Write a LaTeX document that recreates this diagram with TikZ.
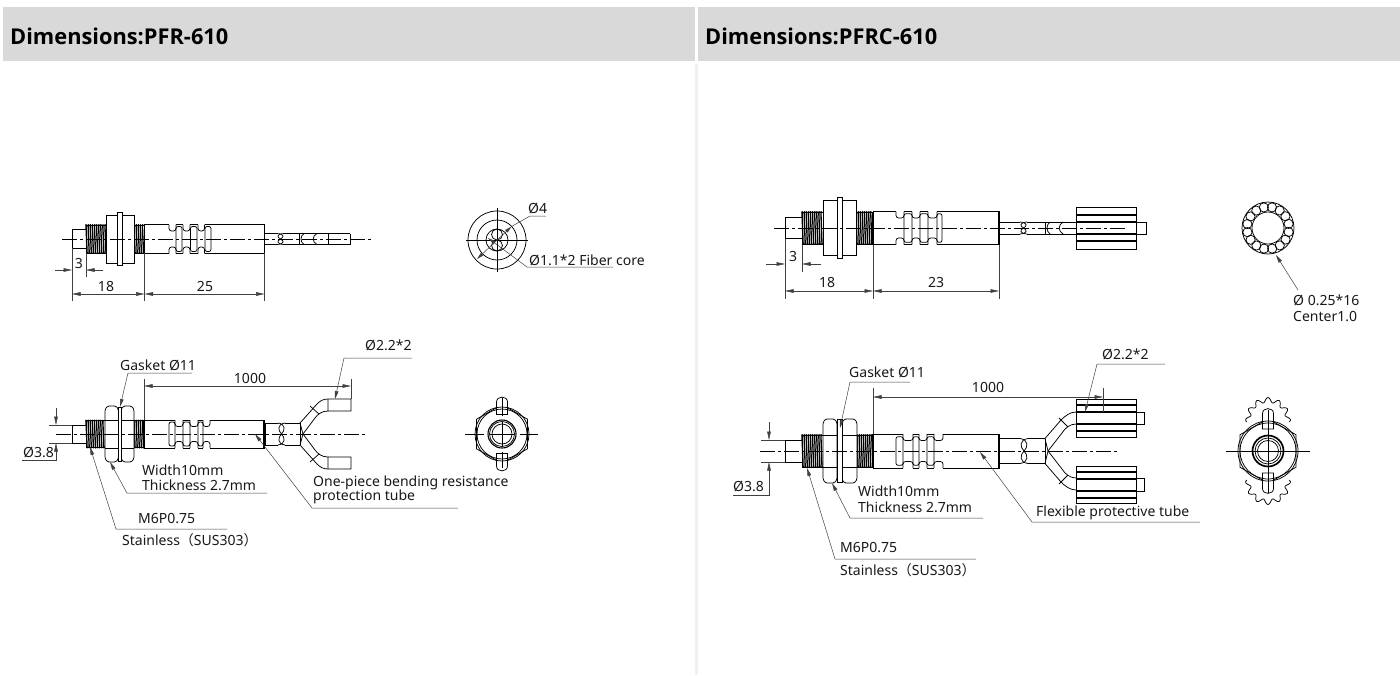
\documentclass[tikz,border=0pt]{standalone}
\usepackage{fontspec}
\setmainfont{Noto Sans}
\newfontfamily\headfont{Open Sans}
\newfontfamily\cjk{Noto Sans CJK SC}
\usetikzlibrary{arrows.meta}
\definecolor{headgray}{HTML}{D9D9D9}
\definecolor{bargray}{HTML}{F0F0F0}
\definecolor{dimgray}{HTML}{404040}
\tikzset{
  part/.style={draw=black,line width=.75},
  axisline/.style={draw=black,line width=.55,dash pattern=on 15pt off 3pt on 3pt off 3pt},
  dimline/.style={draw=dimgray,line width=.5},
  dimtip/.style={dimline,-{Stealth[length=8.5pt,width=3.6pt,inset=0pt]}},
  dimboth/.style={dimline,{Stealth[length=8.5pt,width=3.6pt,inset=0pt]}-{Stealth[length=8.5pt,width=3.6pt,inset=0pt]}},
  leadtip/.style={dimline,-{Stealth[length=8pt,width=3.6pt,inset=0pt]}},
  lab/.style={anchor=west,inner sep=0pt,font=\fontsize{14}{14}\selectfont,text=black!90},
  mid/.style={anchor=center,inner sep=0pt,font=\fontsize{14}{14}\selectfont,text=black!90},
  head/.style={anchor=west,inner sep=0pt,font=\headfont\fontsize{21.8}{22}\selectfont\bfseries,text=black}
}
% thread: x0 x1 cy h
\newcommand\threadpart[4]{%
  \draw[part] (#1,{#3-#4}) rectangle (#2,{#3+#4});
  \pgfmathsetmacro\nxt{#1+2.1}%
  \pgfmathsetmacro\lst{#2-1}%
  \foreach \tx in {#1,\nxt,...,\lst}{%
    \draw[line width=1.35] (\tx,{#3-#4}) -- ({\tx+1.1},{#3+#4});
    \fill ({\tx+.2},{#3-#4}) circle (1);
    \fill ({\tx+1.1},{#3+#4}) circle (1);
  }}
% nut outlines: x0 x1 cy h
\newcommand\nutflat[4]{\draw[part,fill=white] (#1,{#3-#4}) rectangle (#2,{#3+#4});}
\newcommand\nutfront[4]{%
  \draw[part,fill=white,rounded corners=1.5] (#1,{#3-#4+3.5}) -- ({#1+2.5},{#3-#4}) -- ({#2-2.5},{#3-#4}) -- (#2,{#3-#4+3.5}) -- (#2,{#3+#4-3.5}) -- ({#2-2.5},{#3+#4}) -- ({#1+2.5},{#3+#4}) -- (#1,{#3+#4-3.5}) -- cycle;
  \draw[part] (#1,{#3-.5*#4}) -- (#2,{#3-.5*#4}) (#1,{#3+.5*#4}) -- (#2,{#3+.5*#4});}
% slot and notch: x0 x1 cy h
\newcommand\slotcut[4]{\draw[part,rounded corners=2] (#1,{#3-#4}) rectangle (#2,{#3+#4});}
\newcommand\notchcut[4]{%
  \fill[white] (#1,{#3-#4-.6}) rectangle (#2,{#3-#4+1});
  \fill[white] (#1,{#3+#4-1}) rectangle (#2,{#3+#4+.6});
  \draw[part,rounded corners=2.6] (#1,{#3-#4}) -- (#1,{#3-#4+6.5}) -- (#2,{#3-#4+6.5}) -- (#2,{#3-#4});
  \draw[part,rounded corners=2.6] (#1,{#3+#4}) -- (#1,{#3+#4-6.5}) -- (#2,{#3+#4-6.5}) -- (#2,{#3+#4});}
% sensor: cy xt xa xb xc xd xe xf xg; heights in \hT \hR \hN \hG \hB, nut macro \nutkind
\newcommand\sensor[9]{%
  \draw[part] (#2,{#1-\hT}) rectangle (#3,{#1+\hT});
  \threadpart{#3}{#4}{#1}{\hR}
  \threadpart{#7}{#8}{#1}{\hR}
  \nutkind{#4}{#5}{#1}{\hN}
  \nutkind{#6}{#7}{#1}{\hN}
  \draw[part,fill=white] (#5,{#1-\hG}) rectangle (#6,{#1+\hG});
  \draw[part] (#8,{#1-\hB}) rectangle (#9,{#1+\hB});
  \draw[line width=1.3] (#8,{#1-\hB}) -- (#8,{#1+\hB}) (#9,{#1-\hB}) -- (#9,{#1+\hB});}
% twist (figure of eight): a b cy h
\newcommand\twist[4]{%
  \fill[white] (#1,{#3-#4-.6}) rectangle (#2,{#3+#4+.6});
  \draw[part] (#1,{#3-#4}) .. controls ({#2+1},{#3-.9*#4}) and (#2,{#3-.3*#4}) .. ({(#1+#2)/2},#3) .. controls (#1,{#3+.3*#4}) and ({#1-1},{#3+.9*#4}) .. (#2,{#3+#4});
  \draw[part] (#2,{#3-#4}) .. controls ({#1-1},{#3-.9*#4}) and (#1,{#3-.3*#4}) .. ({(#1+#2)/2},#3) .. controls (#2,{#3+.3*#4}) and ({#2+1},{#3+.9*#4}) .. (#1,{#3+#4});}
% cable: a b cy h
\newcommand\cablepart[4]{\draw[part] (#1,{#3-#4}) -- (#2,{#3-#4}) (#1,{#3+#4}) -- (#2,{#3+#4});}
% knurled connector: x0 x1 yc half
\newcommand\knurl[4]{%
  \draw[part,fill=white] (#1,{#3-#4}) rectangle (#2,{#3+#4});
  \draw[line width=1.6] (#1,{#3-6}) -- (#2,{#3-6}) (#1,{#3+6}) -- (#2,{#3+6});
  \draw[line width=1.1] (#1,{#3-13}) -- (#2,{#3-13}) (#1,{#3+13}) -- (#2,{#3+13});}
% gear arc: cx cy radius from to
\newcommand\geararc[5]{%
  \draw[part,smooth,samples=200,domain=#4:#5,variable=\t] plot ({#1+(#3+2.4*cos(12*\t))*cos(\t)},{#2-(#3+2.4*cos(12*\t))*sin(\t)});}
% front view: cx cy apothem rOuter lug length
\newcommand\frontview[5]{%
  \draw[part] ({#1-#3},{#2-.58*#3}) -- (#1,{#2-1.155*#3}) -- ({#1+#3},{#2-.58*#3}) -- ({#1+#3},{#2+.58*#3}) -- (#1,{#2+1.155*#3}) -- ({#1-#3},{#2+.58*#3}) -- cycle;
  \draw[part,fill=white] ({#1-5.5},{#2-#3-#5+1.5}) .. controls ({#1-5.5},{#2-#3-#5-5}) and ({#1+5.5},{#2-#3-#5-5}) .. ({#1+5.5},{#2-#3-#5+1.5}) -- ({#1+5.5},{#2-#3+6}) -- ({#1-5.5},{#2-#3+6}) -- cycle;
  \draw[part,fill=white] ({#1-5.5},{#2+#3+#5-1.5}) .. controls ({#1-5.5},{#2+#3+#5+5}) and ({#1+5.5},{#2+#3+#5+5}) .. ({#1+5.5},{#2+#3+#5-1.5}) -- ({#1+5.5},{#2+#3-6}) -- ({#1-5.5},{#2+#3-6}) -- cycle;
  \draw[part] (#1,#2) circle (#4);
  \draw[part] (#1,#2) circle ({#4-2});}
\begin{document}
\begin{tikzpicture}[x=1pt,y=-1pt]
\useasboundingbox (0,0) rectangle (1400,675);
\fill[white] (0,0) rectangle (1400,675);
% headers
\fill[headgray] (3,7) rectangle (695,60.5);
\fill[headgray] (698,7) rectangle (1400,60.5);
\fill[bargray] (695,64) rectangle (698,675);
\node[head] (hA) at (10,36) {Dimensions:PFR-610};
\node[head] (hB) at (705,36) {Dimensions:PFRC-610};

%% ===== left, top
\def\hT{9.5}\def\hR{14}\def\hN{24}\def\hG{26.5}\def\hB{14.5}\let\nutkind\nutflat
\sensor{239}{72}{86}{106}{117}{122}{134}{144.5}{264.5}
\notchcut{169}{176}{239}{14.5}\notchcut{183}{190}{239}{14.5}\notchcut{198}{204.5}{239}{14.5}
\slotcut{176}{182}{239}{12.5}\slotcut{190.5}{197}{239}{12.5}\slotcut{205}{211}{239}{12.5}
\cablepart{264.5}{277}{239}{5.5}
\twist{277}{284}{239}{5.5}
\cablepart{284}{350}{239}{5.5}
\draw[part] (350,233.5) -- (350,244.5) (328,233.5) -- (328,244.5);
\draw[part] (299,233.5) -- (299,244.5);
\draw[part] (304,233.5) .. controls (300,236) and (300,242) .. (304,244.5);
\draw[part] (317,233.5) .. controls (312,236) and (312,242) .. (317,244.5);
\draw[axisline] (62,239) -- (372,239);
\draw[dimline] (72,248) -- (72,301) (86,253) -- (86,277) (144.5,253) -- (144.5,301) (264.5,253) -- (264.5,301);
\draw[dimtip] (55,270) -- (72,270);
\draw[dimtip] (103,270) -- (86,270);
\draw[dimboth] (72,294) -- (144.5,294);
\draw[dimboth] (144.5,294) -- (264.5,294);
\node[mid] (t3a) at (79,263) {3};
\node[mid] (t18a) at (106,286) {18};
\node[mid] (t25a) at (205,286) {25};

%% left, end view top
\draw[part] (497,240) circle (29) (497,240) circle (20) (497,240) circle (11);
\draw[part] (497,234.5) circle (5.5) (497,245.5) circle (5.5);
\draw[part] (466,240) -- (528,240) (497,208) -- (497,272);
\node[lab] (tD4) at (528,208) {Ø4};
\node[lab] (tFib) at (529,260) {Ø1.1*2 Fiber core};
\coordinate (d4a) at (530,216);
\coordinate (d4b) at (477,259);
\draw[dimline,{Stealth[length=7pt,width=3.4pt,inset=0pt]}-{Stealth[length=7pt,width=3.4pt,inset=0pt]}] (d4b) -- (511.5,226.5);
\draw[dimline] (511.5,226.5) -- (d4a) -- (546,216);
\draw[leadtip] (613,267) -- (527,267) -- (488,238);

%% ===== left, bottom
\def\hT{9}\def\hR{13.5}\def\hN{28}\def\hG{27}\def\hB{14}\let\nutkind\nutfront
\sensor{434}{72}{86}{105}{118.5}{121}{134}{144}{264}
\notchcut{175}{183}{434}{14}\notchcut{190}{198}{434}{14}\notchcut{203}{210}{434}{14}
\slotcut{169}{175}{434}{12}\slotcut{183}{190}{434}{12}\slotcut{198}{203}{434}{12}
\cablepart{265}{278}{434}{11}
\twist{278}{285}{434}{11}
\cablepart{285}{300}{434}{11}
\draw[part] (265,423) -- (265,445) (300,423) -- (300,445);
\foreach \sg in {-1,1}{
  \begin{scope}[shift={(0,434)},yscale=\sg]
    \draw[part] (300,-11) -- (317,-30) .. controls (320,-33) and (323,-35) .. (328,-35) -- (351,-35) -- (351,-23) -- (328,-23);
    \draw[part] (303,0) -- (315,-16) .. controls (318,-20) and (322,-23) .. (328,-23) -- (328,-35);
    \draw[part] (300,-11) -- (303,0);
    \draw[part] (310,-28) -- (319,-20);
  \end{scope}}
\draw[axisline] (56,434) -- (365,434);
% dims
\draw[dimline] (49,425) -- (72,425) (49,443) -- (72,443);
\draw[dimtip] (56,408) -- (56,425);
\draw[dimtip] (22,460) -- (56,460) -- (56,443);
\node[lab] (t38a) at (23,452) {Ø3.8};
\node[lab] (tGa) at (120,365) {Gasket Ø11};
\draw[leadtip] (192,373) -- (128,373) -- (120,407);
\draw[dimline] (144,379) -- (144,420) (351,379) -- (351,399);
\draw[dimboth] (144,386) -- (351,386);
\node[mid] (t1000a) at (250,378) {1000};
\node[lab] (tDa) at (365,345) {Ø2.2*2};
\draw[leadtip] (412,358) -- (344,358) -- (335,399);
\node[lab] (tWa) at (142,470) {Width10mm};
\node[lab] (tTa) at (142,485) {Thickness 2.7mm};
\draw[leadtip] (267,493) -- (127,493) -- (110,462);
\node[lab] (tMa) at (138,519) {M6P0.75};
\draw[leadtip] (227,529) -- (116,529) -- (90,447);
\node[lab] (tSa) at (122,540) {Stainless{\cjk（}SUS303{\cjk）}};
\node[lab] (tOa) at (313,483) {One-piece bending resistance};
\node[lab] (tOb) at (313,497) {protection tube};
\draw[leadtip] (458,508) -- (312,508) -- (255,434);

%% left end view bottom
\frontview{502}{434}{25.5}{27}{8}
\draw[part,line width=1.1] (502,434) circle (14);
\draw[part] (502,434) circle (12.5) (502,434) circle (10);
\draw[part] (465,434) -- (484,434) (490,434) -- (514,434) (520,434) -- (538,434);
\draw[part] (502,398) -- (502,416) (502,422) -- (502,446) (502,452) -- (502,468);

%% ===== right, top
\def\hT{10.5}\def\hR{16}\def\hN{27.5}\def\hG{30.5}\def\hB{16.5}\let\nutkind\nutflat
\sensor{228}{785}{802}{823}{837}{842}{856}{873}{999}
\notchcut{896}{904}{228}{16.5}\notchcut{912}{920}{228}{16.5}\notchcut{928}{937}{228}{16.5}
\slotcut{904}{912}{228}{14.3}\slotcut{920}{928}{228}{14.3}\slotcut{937}{942}{228}{14.3}
\cablepart{999}{1020}{228}{6}
\twist{1020}{1027}{228}{6}
\cablepart{1027}{1076}{228}{6}
\draw[part] (1045,222) -- (1045,234);
\draw[part] (1050,222) .. controls (1046,225) and (1046,231) .. (1050,234);
\draw[part] (1063,222) .. controls (1058,225) and (1058,231) .. (1063,234);
\knurl{1076}{1136}{228}{21}
\draw[part] (1136,222) -- (1146,222) -- (1146,234) -- (1136,234);
\draw[axisline] (774,228) -- (1127,228);
\draw[dimline] (785,239) -- (785,299) (802,245) -- (802,272) (873,245) -- (873,299) (999,245) -- (999,299);
\draw[dimtip] (766,264) -- (785,264);
\draw[dimtip] (821,264) -- (802,264);
\draw[dimboth] (785,291) -- (873,291);
\draw[dimboth] (873,291) -- (999,291);
\node[mid] (t3b) at (793,256) {3};
\node[mid] (t18b) at (827,282) {18};
\node[mid] (t23b) at (936,282) {23};

%% right, ring
\draw[part] (1268,228) circle (26) (1268,228) circle (16);
\foreach \a in {0,22.5,...,337.5}{\draw[part] ({1268+21*cos(\a+11)},{228+21*sin(\a+11)}) circle (4.6);}
\draw[leadtip] (1298,290) -- (1276,255);
\node[lab] (tRa) at (1293,300) {Ø 0.25*16};
\node[lab] (tRb) at (1293,317) {Center1.0};

%% ===== right, bottom
\def\hT{11}\def\hR{16}\def\hN{32}\def\hG{31.5}\def\hB{17}\let\nutkind\nutfront
\sensor{451}{785}{802}{823}{837}{842}{857}{873}{999}
\notchcut{903}{913}{451}{17}\notchcut{919}{927}{451}{17}\notchcut{934}{943}{451}{17}
\slotcut{896}{903}{451}{14.3}\slotcut{913}{919}{451}{14.3}\slotcut{927}{934}{451}{14.3}
\cablepart{999}{1020}{451}{12.5}
\twist{1020}{1028}{451}{12.5}
\cablepart{1028}{1045}{451}{12.5}
\draw[part] (1045,438.5) -- (1045,463.5);
\foreach \sg in {-1,1}{
  \begin{scope}[shift={(0,451)},yscale=\sg]
    \draw[part] (1045,-12.5) -- (1061,-31) .. controls (1065,-35) and (1070,-39) .. (1076,-39);
    \draw[part] (1048,0) -- (1062,-18) .. controls (1065,-23) and (1070,-27) .. (1076,-27);
    \draw[part] (1045,-12.5) -- (1048,0);
    \draw[part] (1059,-33) -- (1068,-24);
  \end{scope}}
\knurl{1076}{1136}{418}{19}
\knurl{1076}{1136}{485}{18.5}
\draw[part] (1136,412) -- (1144,412) -- (1144,424) -- (1136,424);
\draw[part] (1136,478) -- (1144,478) -- (1144,491) -- (1136,491);
\draw[axisline] (760,451) -- (1119,451);
\draw[dimline] (761,440) -- (785,440) (761,462) -- (785,462);
\draw[dimtip] (769,422) -- (769,440);
\draw[dimtip] (733,495) -- (769,495) -- (769,462);
\node[lab] (t38b) at (733,486) {Ø3.8};
\node[lab] (tGb) at (849,372) {Gasket Ø11};
\draw[leadtip] (910,382) -- (850,382) -- (840,428);
\draw[dimline] (873,388) -- (873,434) (1103,388) -- (1103,412);
\draw[dimboth] (873,397) -- (1103,397);
\node[mid] (t1000b) at (988,387) {1000};
\node[lab] (tDb) at (1102,354) {Ø2.2*2};
\draw[leadtip] (1165,364) -- (1097,364) -- (1085,412);
\node[lab] (tWb) at (858,491) {Width10mm};
\node[lab] (tTb) at (858,507) {Thickness 2.7mm};
\draw[leadtip] (983,518) -- (850,518) -- (832,483);
\node[lab] (tMb) at (840,548) {M6P0.75};
\draw[leadtip] (976,559) -- (835,559) -- (807,468);
\node[lab] (tSb) at (840,570) {Stainless{\cjk（}SUS303{\cjk）}};
\node[lab] (tFl) at (1036,513) {Flexible protective tube};
\draw[leadtip] (1200,522) -- (1032,522) -- (980,452);

%% right end view bottom
\geararc{1268}{420}{20}{-5}{185}
\geararc{1268}{482}{20}{175}{365}
\frontview{1268}{451}{28}{30}{11}
\draw[line width=1.7] (1268,451) circle (15.5);
\draw[part] (1268,451) circle (13) (1268,451) circle (10.5);
\draw[part] (1226,451) -- (1310,451) (1268,410) -- (1268,493);
\end{tikzpicture}
\end{document}
